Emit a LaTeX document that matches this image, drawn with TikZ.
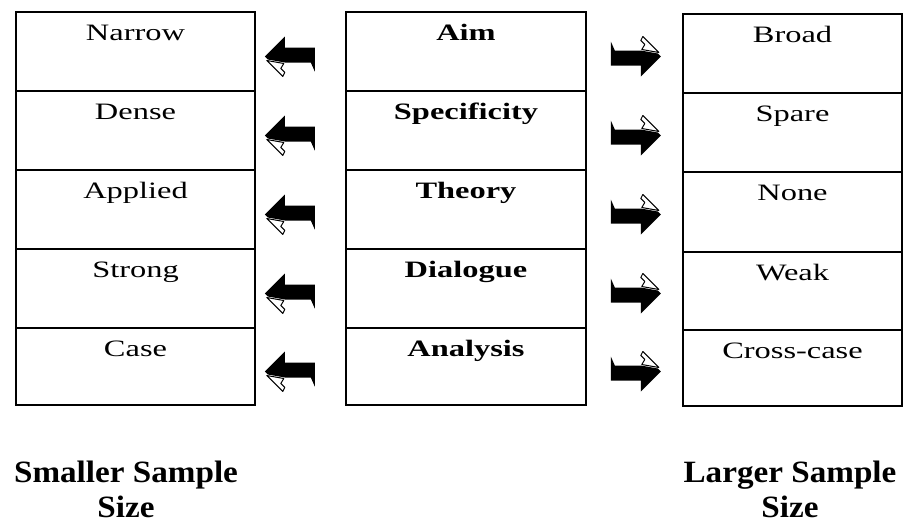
\documentclass[tikz,border=0pt]{standalone}
\usepackage{fontspec}
\setmainfont{Liberation Serif}
\usetikzlibrary{calc}

% horizontally widened text
\newcommand{\widetext}[1]{\scalebox{1.38}[1]{#1}}
\newcommand{\widebold}[1]{\scalebox{1.07}[1]{#1}}

\begin{document}
\begin{tikzpicture}[x=1pt,y=-1pt,
  cell/.style={draw=black, line width=1.6pt, inner sep=0pt, fill=white},
  lcol/.style={cell, minimum width=239pt},
  mcol/.style={cell, minimum width=240pt},
  rcol/.style={cell, minimum width=219pt},
  celltext/.style={anchor=base, inner sep=0pt, font=\fontsize{23.5}{27}\selectfont},
  headtext/.style={celltext, font=\fontsize{23.5}{27}\selectfont\bfseries},
  sidetext/.style={anchor=base, inner sep=0pt, font=\fontsize{31}{35}\selectfont\bfseries},
  larrow/.pic={
    \fill[black] (0,0) -- (20,-20) -- (20,-9) -- (50,-9) -- (50,15) -- (46,6)
      -- (20,6) -- (3,3) -- cycle;
    \draw[black, line width=1pt, fill=white, line join=round]
      (2,4) -- (18,20) -- (20,16) -- (16,12) -- (19,7) -- cycle;
  }
]
\useasboundingbox (0,0) rectangle (904,522);

% left column
\node[lcol, minimum height=79pt] (l1) at (135.5,51.5) {};
\node[lcol, minimum height=79pt] (l2) at (135.5,130.5) {};
\node[lcol, minimum height=79pt] (l3) at (135.5,209.5) {};
\node[lcol, minimum height=79pt] (l4) at (135.5,288.5) {};
\node[lcol, minimum height=77pt] (l5) at (135.5,366.5) {};

% middle column
\node[mcol, minimum height=79pt] (m1) at (466,51.5) {};
\node[mcol, minimum height=79pt] (m2) at (466,130.5) {};
\node[mcol, minimum height=79pt] (m3) at (466,209.5) {};
\node[mcol, minimum height=79pt] (m4) at (466,288.5) {};
\node[mcol, minimum height=77pt] (m5) at (466,366.5) {};

% right column
\node[rcol, minimum height=79pt] (r1) at (792.5,53.5) {};
\node[rcol, minimum height=79pt] (r2) at (792.5,132.5) {};
\node[rcol, minimum height=80pt] (r3) at (792.5,212) {};
\node[rcol, minimum height=78pt] (r4) at (792.5,291) {};
\node[rcol, minimum height=76pt] (r5) at (792.5,368) {};

% cell labels
\node[celltext] (l1t) at ($(l1.north)+(0,29)$) {\widetext{Narrow}};
\node[celltext] (l2t) at ($(l2.north)+(0,29)$) {\widetext{Dense}};
\node[celltext] (l3t) at ($(l3.north)+(0,29)$) {\widetext{Applied}};
\node[celltext] (l4t) at ($(l4.north)+(0,29)$) {\widetext{Strong}};
\node[celltext] (l5t) at ($(l5.north)+(0,29)$) {\widetext{Case}};

\node[headtext] (m1t) at ($(m1.north)+(0,29)$) {\widetext{Aim}};
\node[headtext] (m2t) at ($(m2.north)+(0,29)$) {\widetext{Specificity}};
\node[headtext] (m3t) at ($(m3.north)+(0,29)$) {\widetext{Theory}};
\node[headtext] (m4t) at ($(m4.north)+(0,29)$) {\widetext{Dialogue}};
\node[headtext] (m5t) at ($(m5.north)+(0,29)$) {\widetext{Analysis}};

\node[celltext] (r1t) at ($(r1.north)+(0,29)$) {\widetext{Broad}};
\node[celltext] (r2t) at ($(r2.north)+(0,29)$) {\widetext{Spare}};
\node[celltext] (r3t) at ($(r3.north)+(0,29)$) {\widetext{None}};
\node[celltext] (r4t) at ($(r4.north)+(0,29)$) {\widetext{Weak}};
\node[celltext] (r5t) at ($(r5.north)+(0,29)$) {\widetext{Cross-case}};

% block arrows between the columns
\foreach \i in {1,...,5}{
  \pic at ($(l\i.east)+(9,5)$) {larrow};
  \pic[rotate=180] at ($(m\i.east)+(74,5)$) {larrow};
}

% captions under the outer columns
\node[sidetext] (sl1) at (126,482) {\widebold{Smaller Sample}};
\node[sidetext] (sl2) at (126,517) {\widebold{Size}};
\node[sidetext] (sr1) at (790,482) {\widebold{Larger Sample}};
\node[sidetext] (sr2) at (790,517) {\widebold{Size}};
\end{tikzpicture}
\end{document}
